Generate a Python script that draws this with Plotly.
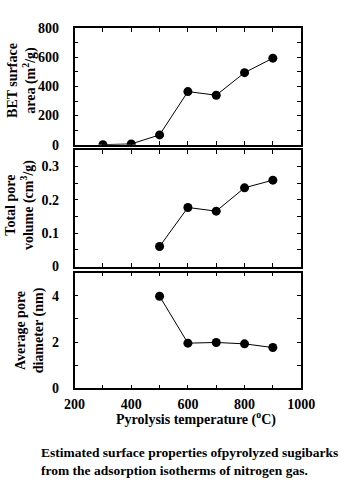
import plotly.graph_objects as go

temps_bet = [300, 400, 500, 600, 700, 800, 900]
bet_area = [0, 5, 67, 365, 340, 495, 595]
temps_pore = [500, 600, 700, 800, 900]
pore_volume = [0.060, 0.177, 0.166, 0.236, 0.259]
pore_diameter = [3.98, 1.95, 1.98, 1.92, 1.76]

x_ticks = [200, 400, 600, 800, 1000]

W, H = 350, 490
FONT = "Liberation Serif"

def px_x(p):
    return p / W

def px_y(p):
    return 1 - p / H

fig = go.Figure()
mk = dict(color="black", size=9)
ln = dict(color="black", width=1)
fig.add_trace(go.Scatter(x=temps_bet, y=bet_area, mode="lines+markers", marker=mk, line=ln, xaxis="x", yaxis="y"))
fig.add_trace(go.Scatter(x=temps_pore, y=pore_volume, mode="lines+markers", marker=mk, line=ln, xaxis="x2", yaxis="y2"))
fig.add_trace(go.Scatter(x=temps_pore, y=pore_diameter, mode="lines+markers", marker=mk, line=ln, xaxis="x3", yaxis="y3"))

xdom = [px_x(68.5), px_x(312.5)]
tickfont = dict(family=FONT, size=14, color="black")

def b(s):
    return "<b>" + s + "</b>"

def xax(show_labels, anchor):
    return dict(domain=xdom, range=[200, 1000], anchor=anchor, tickmode="array", tickvals=x_ticks,
                ticktext=[b(str(v)) for v in x_ticks], showticklabels=show_labels,
                ticks="inside", ticklen=4, tickwidth=1, tickcolor="black",
                minor=dict(dtick=100, tick0=200, ticks="inside", ticklen=4, tickwidth=1, tickcolor="black"),
                showline=True, linecolor="black", linewidth=1.5, mirror="ticks",
                showgrid=False, zeroline=False, tickfont=tickfont, ticklabelstandoff=2, fixedrange=True)

def yax(dom, rng, vals, labels, minor, anchor):
    return dict(domain=dom, range=rng, anchor=anchor, tickmode="array", tickvals=vals,
                ticktext=[b(t) for t in labels],
                ticks="inside", ticklen=4, tickwidth=1, tickcolor="black",
                minor=dict(dtick=minor, tick0=0, ticks="inside", ticklen=4, tickwidth=1, tickcolor="black"),
                showline=True, linecolor="black", linewidth=1.5, mirror="ticks",
                showgrid=False, zeroline=False, tickfont=tickfont, ticklabelstandoff=11, fixedrange=True)

bet_ticks = [0, 200, 400, 600, 800]
vol_ticks = [0, 0.1, 0.2, 0.3]
dia_ticks = [0, 2, 4]

fig.update_layout(
    width=W, height=H, margin=dict(l=0, r=0, t=0, b=0),
    paper_bgcolor="white", plot_bgcolor="white", showlegend=False,
    font=dict(family=FONT, color="black"),
    xaxis=xax(False, "y"), xaxis2=xax(False, "y2"), xaxis3=xax(True, "y3"),
    yaxis=yax([px_y(142), px_y(22)], [0, 800], bet_ticks, [str(v) for v in bet_ticks], 100, "x"),
    yaxis2=yax([px_y(267.7), px_y(147.3)], [0, 0.35], vol_ticks, ["0", "0.1", "0.2", "0.3"], 0.05, "x2"),
    yaxis3=yax([px_y(393.3), px_y(274)], [0, 5], dia_ticks, [str(v) for v in dia_ticks], 1, "x3"),
)

tfont = dict(family=FONT, size=14, color="black")
titles = [
    ("BET surface<br>area (m<sup>2</sup>/g)", 11, 76),
    ("Total pore<br>volume (cm<sup>3</sup>/g)", 9, 204),
    ("Average pore<br>diameter (nm)", 20, 334),
]
for text, cx, cy in titles:
    fig.add_annotation(text=b(text), x=px_x(cx), y=px_y(cy), xref="paper", yref="paper",
                       textangle=-90, showarrow=False, xanchor="center", yanchor="middle",
                       font=tfont)

fig.add_annotation(text=b("Pyrolysis temperature (<sup>o</sup>C)"), x=px_x(199), y=px_y(425),
                   xref="paper", yref="paper", showarrow=False, xanchor="center", yanchor="middle",
                   font=tfont)
fig.add_annotation(text=b("Estimated surface properties ofpyrolyzed sugibarks<br>from the adsorption isotherms of nitrogen gas."),
                   x=px_x(30), y=px_y(469), xref="paper", yref="paper", showarrow=False,
                   xanchor="left", yanchor="middle", align="left",
                   font=dict(family=FONT, size=13.5, color="black"))

fig.write_html("out.html")
